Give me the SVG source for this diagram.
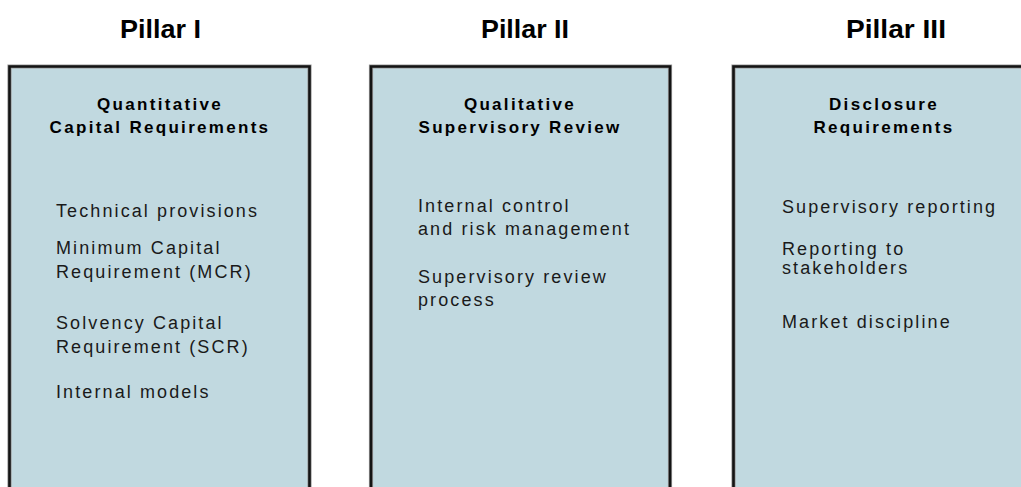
<svg xmlns="http://www.w3.org/2000/svg" width="1021" height="487" viewBox="0 0 1021 487">
<style>
.box{fill:#c1d9e0;stroke:none}
.edge{fill:none;stroke:#141414;stroke-width:2.6}
.halo{fill:none;stroke:#9a9a9a;stroke-width:4.2}
.title{font-family:"Liberation Sans",Arial,sans-serif;font-weight:bold;font-size:25px;fill:#000}
.head{font-family:"Liberation Sans",Arial,sans-serif;font-weight:bold;font-size:17px;letter-spacing:2.3px;fill:#000;text-anchor:middle}
.item{font-family:"Liberation Sans",Arial,sans-serif;font-size:18px;letter-spacing:2.1px;fill:#1a1a1a}
</style>
<rect width="1021" height="487" fill="#ffffff"/>
<g id="pillar1">
<text class="title" x="120" y="38" textLength="81" lengthAdjust="spacingAndGlyphs">Pillar I</text>
<rect class="box" x="9.5" y="66.5" width="300" height="430"/>
<path class="halo" d="M9.5,500 V66.5 H309.5 V500"/>
<path class="edge" d="M9.5,500 V66.5 H309.5 V500"/>
<text class="head" x="160" y="110">Quantitative</text>
<text class="head" x="160" y="133">Capital Requirements</text>
<text class="item" x="56" y="217">Technical provisions</text>
<text class="item" x="56" y="254">Minimum Capital</text>
<text class="item" x="56" y="278">Requirement (MCR)</text>
<text class="item" x="56" y="329">Solvency Capital</text>
<text class="item" x="56" y="353">Requirement (SCR)</text>
<text class="item" x="56" y="398">Internal models</text>
</g>
<g id="pillar2">
<text class="title" x="481" y="38" textLength="88" lengthAdjust="spacingAndGlyphs">Pillar II</text>
<rect class="box" x="371" y="66.5" width="299" height="430"/>
<path class="halo" d="M371,500 V66.5 H670 V500"/>
<path class="edge" d="M371,500 V66.5 H670 V500"/>
<text class="head" x="520" y="110">Qualitative</text>
<text class="head" x="520" y="133">Supervisory Review</text>
<text class="item" x="418" y="212">Internal control</text>
<text class="item" x="418" y="235">and risk management</text>
<text class="item" x="418" y="283">Supervisory review</text>
<text class="item" x="418" y="306">process</text>
</g>
<g id="pillar3">
<text class="title" x="846" y="38" textLength="100" lengthAdjust="spacingAndGlyphs">Pillar III</text>
<rect class="box" x="733.5" y="66.5" width="310" height="430"/>
<path class="halo" d="M733.5,500 V66.5 H1040"/>
<path class="edge" d="M733.5,500 V66.5 H1040"/>
<text class="head" x="884" y="110">Disclosure</text>
<text class="head" x="884" y="133">Requirements</text>
<text class="item" x="782" y="213">Supervisory reporting</text>
<text class="item" x="782" y="255">Reporting to</text>
<text class="item" x="782" y="274">stakeholders</text>
<text class="item" x="782" y="328">Market discipline</text>
</g>
<g id="connectors"/>
</svg>
